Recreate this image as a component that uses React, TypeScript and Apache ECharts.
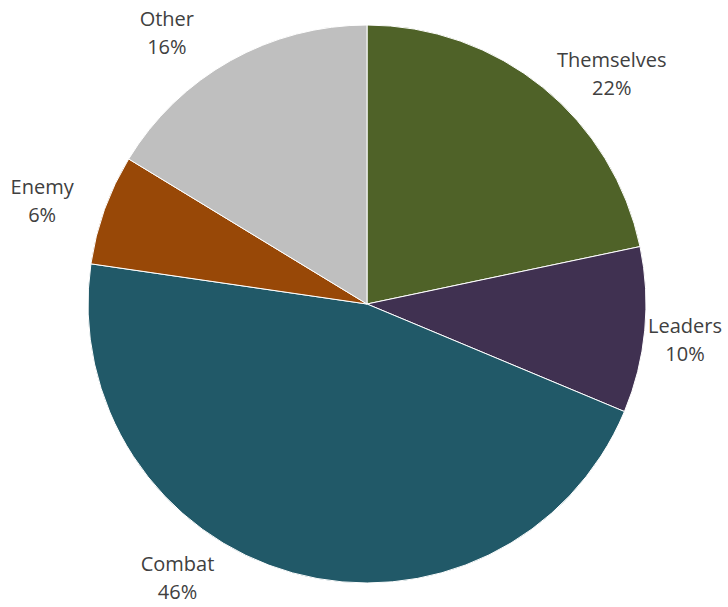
import React, { useEffect, useRef } from "react";
import * as echarts from "echarts";

const categories = ["Themselves", "Leaders", "Combat", "Enemy", "Other"];
const values = [21.7, 9.6, 46.0, 6.4, 16.3];
const colors = ["#4F6228", "#403151", "#215968", "#984807", "#BFBFBF"];

// label placement (polar, relative to the pie centre)
const LABEL_ANGLE_SHIFT = [7.7, 0.9, 19.2, -2.1, -7.1];
const LABEL_RADIUS = [336, 320, 333, 341, 337];

const CX = 367;
const CY = 304;
const R = 279;

export default function App() {
  const ref = useRef<HTMLDivElement>(null);
  useEffect(() => {
    if (!ref.current) return;
    const chart = echarts.init(ref.current, undefined, { renderer: "svg" });
    const total = values.reduce((a, b) => a + b, 0);
    const mids: number[] = [];
    let acc = 0;
    values.forEach((v) => {
      mids.push(((acc + v / 2) / total) * 360);
      acc += v;
    });
    chart.setOption({
      animation: false,
      backgroundColor: "#ffffff",
      series: [
        {
          type: "pie",
          center: [CX, CY],
          radius: [0, R],
          startAngle: 90,
          clockwise: true,
          percentPrecision: 0,
          avoidLabelOverlap: false,
          data: categories.map((c, i) => ({
            name: c,
            value: values[i],
            itemStyle: { color: colors[i] },
          })),
          itemStyle: { borderColor: "#ffffff", borderWidth: 1 },
          label: {
            show: true,
            position: "outside",
            formatter: "{b}\n{d}%",
            fontFamily: "Open Sans",
            fontSize: 20,
            lineHeight: 28,
            color: "#404040",
            align: "center",
          },
          labelLine: { show: false },
          labelLayout: (params: any) => {
            const i = params.dataIndex;
            const th = ((mids[i] + LABEL_ANGLE_SHIFT[i]) * Math.PI) / 180;
            return {
              x: CX + LABEL_RADIUS[i] * Math.sin(th),
              y: CY - LABEL_RADIUS[i] * Math.cos(th),
              align: "center",
              verticalAlign: "middle",
            };
          },
          emphasis: { disabled: true },
        },
      ],
    });
    return () => chart.dispose();
  }, []);
  return (
    <div
      ref={ref}
      style={{ position: "absolute", left: 0, top: 0, width: 728, height: 607 }}
    />
  );
}
